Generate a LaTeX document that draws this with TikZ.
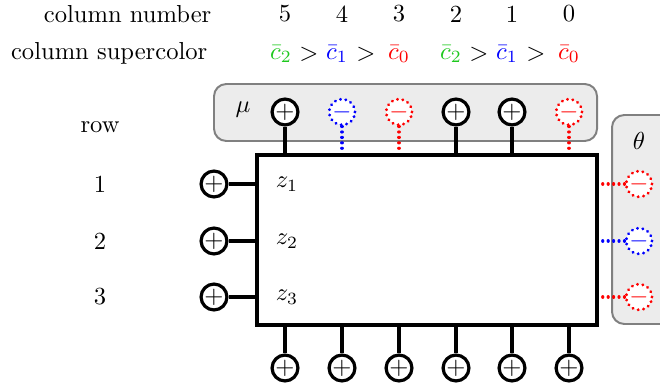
\documentclass[tikz,border=0pt]{standalone}
\usepackage{amsmath}
\usepackage{xcolor}
\usetikzlibrary{positioning}

\definecolor{scgreen}{RGB}{30,200,30}

\begin{document}
\begin{tikzpicture}[x=0.0143cm, y=-0.0143cm,
  every node/.style={font=\normalsize},
  plusc/.style={circle, draw, line width=1.3pt, fill=white, inner sep=0pt, minimum size=0.37cm},
  negc/.style={circle, draw, line width=1.3pt, line cap=round, dash pattern=on 0.01pt off 2.2pt, fill=white, inner sep=0pt, minimum size=0.37cm},
  negb/.style={negc, draw=blue, text=blue},
  negr/.style={negc, draw=red, text=red},
  lplus/.style={line width=1.3pt},
  lnegb/.style={line width=1.3pt, blue, line cap=round, dash pattern=on 0.01pt off 2.2pt},
  lnegr/.style={line width=1.3pt, red, line cap=round, dash pattern=on 0.01pt off 2.2pt},
  sup/.style={inner sep=0pt},
  panel/.style={draw=gray, fill=gray!15, line width=0.8pt, rounded corners=5pt}]
  \useasboundingbox (0,0) rectangle (660,385);
  % Panels
  \draw[panel] (214,84) rectangle (597,141);
  \draw[panel] (612,115) rectangle (700,324);
  \node (mu) at (243,110) {$\mu$};
  \node (theta) at (639,141) {$\theta$};
  % Box
  \node[draw, line width=1.6pt, minimum width=4.86cm, minimum height=2.42cm] (box) at (427,240) {};
  % Header labels
  \node[anchor=east] (numlab) at (220,14) {column number};
  \node[anchor=east] (sclab) at (216,53) {column supercolor};
  \node (rowlab) at (100,127) {row};
  % Supercolor order, two groups of three columns
  \foreach \g/\d in {a/0, b/170} {
    \node[sup] (sc\g2) at (281+\d,54) {$\textcolor{scgreen}{\bar c_2}$};
    \node[sup] (gt\g1) at (309+\d,54) {$>$};
    \node[sup] (sc\g1) at (337+\d,54) {$\textcolor{blue}{\bar c_1}$};
    \node[sup] (gt\g2) at (366+\d,54) {$>$};
    \node[sup] (sc\g0) at (399+\d,54) {$\textcolor{red}{\bar c_0}$};
  }
  % Columns
  \foreach \x/\n/\s/\l/\t in {285/5/plusc/lplus/+, 342/4/negb/lnegb/-, 399/3/negr/lnegr/-, 456/2/plusc/lplus/+, 512/1/plusc/lplus/+, 569/0/negr/lnegr/-} {
    \node (num\n) at (\x,14) {\n};
    \node[\s] (top\n) at (\x,112) {$\t$};
    \draw[\l] (top\n) -- (top\n |- box.north);
    \node[plusc] (bot\n) at (\x,368) {$+$};
    \draw[lplus] (bot\n) -- (bot\n |- box.south);
  }
  % Rows
  \foreach \y/\n/\s/\l in {184/1/negr/lnegr, 241/2/negb/lnegb, 297/3/negr/lnegr} {
    \node (row\n) at (100,\y) {\n};
    \node (z\n) at (287,\y) {$z_\n$};
    \node[plusc] (in\n) at (214,\y) {$+$};
    \draw[lplus] (in\n) -- (in\n -| box.west);
    \node[\s] (th\n) at (639,\y) {$-$};
    \draw[\l] (th\n) -- (th\n -| box.east);
  }
\end{tikzpicture}
\end{document}
